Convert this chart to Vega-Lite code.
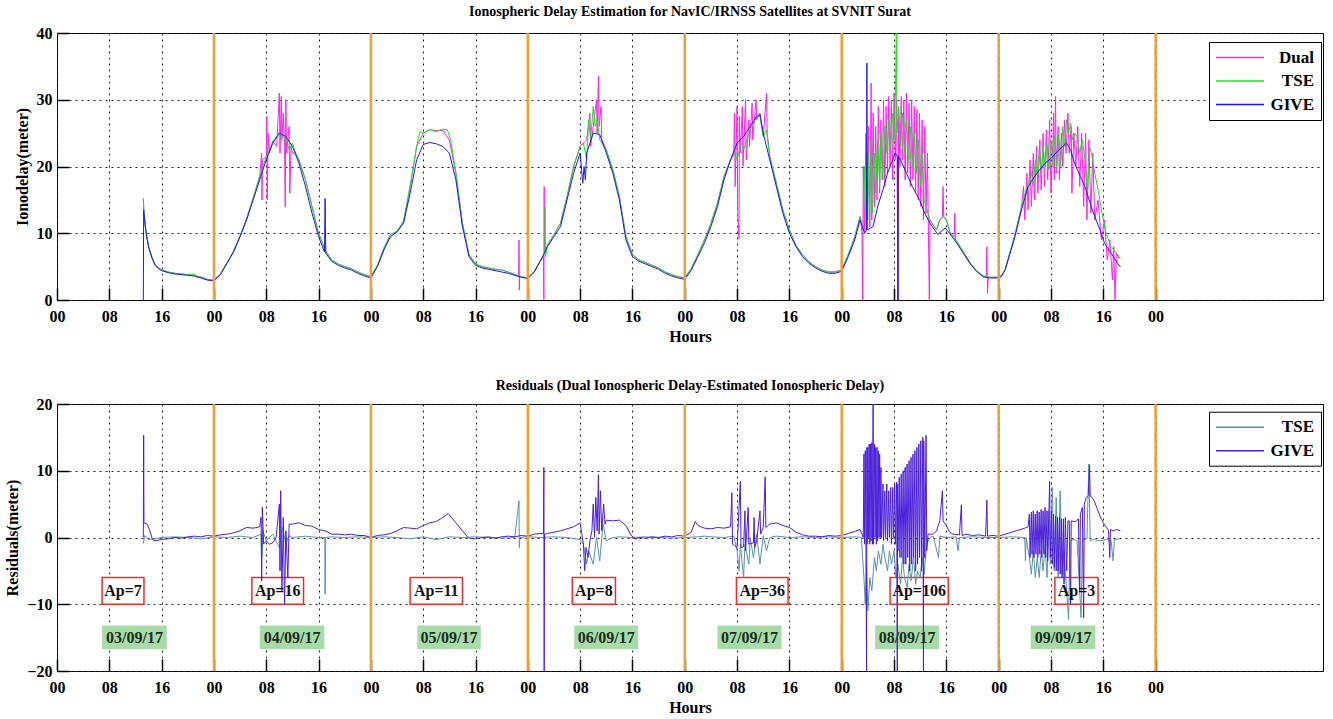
{
  "$schema": "https://vega.github.io/schema/vega-lite/v6.json",
  "padding": {"left": 4, "top": 4, "right": 5, "bottom": 4},
  "background": "white",
  "bounds": "flush",
  "spacing": 104,
  "resolve": {"scale": {"color": "independent"}, "legend": {"color": "independent"}},
  "config": {
    "view": {"stroke": "black", "strokeWidth": 1},
    "font": "Liberation Serif",
    "axis": {
      "labelFont": "Liberation Serif", "labelFontWeight": "bold", "labelFontSize": 16, "labelColor": "black",
      "titleFont": "Liberation Serif", "titleFontWeight": "bold", "titleFontSize": 16, "titleColor": "black",
      "domain": false, "tickColor": "black", "tickSize": -12, "tickWidth": 1.5,
      "gridColor": "#222222", "gridDash": [2, 4], "gridWidth": 1, "gridOpacity": 1
    },
    "axisX": {"labelPadding": 20, "titlePadding": 4, "labelFlush": false},
    "axisY": {"labelPadding": 17, "titlePadding": 6},
    "title": {"font": "Liberation Serif", "fontWeight": "bold", "fontSize": 14, "color": "black", "offset": 6},
    "legend": {
      "title": null, "orient": "none", "symbolType": "M-2.833,0L13.167,0", "symbolSize": 36, "symbolStrokeWidth": 1.5,
      "labelFont": "Liberation Serif", "labelFontWeight": "bold", "labelFontSize": 17, "labelColor": "black",
      "labelAlign": "right", "labelOffset": 81, "strokeColor": "black", "fillColor": "white", "padding": 7, "cornerRadius": 0
    }
  },
  "datasets": {
    "days": [{"h": 24}, {"h": 48}, {"h": 72}, {"h": 96}, {"h": 120}, {"h": 144}, {"h": 168}],
    "ap": [
      {"t": "Ap=7", "x0": 6.9, "x1": 13.3, "xm": 10.1, "y0": -6, "y1": -10, "ym": -8},
      {"t": "Ap=16", "x0": 29.8, "x1": 37.7, "xm": 33.75, "y0": -6, "y1": -10, "ym": -8},
      {"t": "Ap=11", "x0": 54.0, "x1": 62.0, "xm": 58.0, "y0": -6, "y1": -10, "ym": -8},
      {"t": "Ap=8", "x0": 78.8, "x1": 85.4, "xm": 82.1, "y0": -6, "y1": -10, "ym": -8},
      {"t": "Ap=36", "x0": 103.9, "x1": 111.8, "xm": 107.85, "y0": -6, "y1": -10, "ym": -8},
      {"t": "Ap=106", "x0": 127.4, "x1": 136.3, "xm": 131.85, "y0": -6, "y1": -10, "ym": -8},
      {"t": "Ap=3", "x0": 152.6, "x1": 159.2, "xm": 155.9, "y0": -6, "y1": -10, "ym": -8}
    ],
    "dates": [
      {"t": "03/09/17", "x0": 6.9, "x1": 16.8, "xm": 11.85, "y0": -13.2, "y1": -16.7, "ym": -15},
      {"t": "04/09/17", "x0": 31.0, "x1": 40.9, "xm": 35.95, "y0": -13.2, "y1": -16.7, "ym": -15},
      {"t": "05/09/17", "x0": 55.1, "x1": 64.8, "xm": 59.95, "y0": -13.2, "y1": -16.7, "ym": -15},
      {"t": "06/09/17", "x0": 79.1, "x1": 88.9, "xm": 84.0, "y0": -13.2, "y1": -16.7, "ym": -15},
      {"t": "07/09/17", "x0": 101.0, "x1": 110.8, "xm": 105.9, "y0": -13.2, "y1": -16.7, "ym": -15},
      {"t": "08/09/17", "x0": 125.1, "x1": 134.9, "xm": 130.0, "y0": -13.2, "y1": -16.7, "ym": -15},
      {"t": "09/09/17", "x0": 148.9, "x1": 158.8, "xm": 153.85, "y0": -13.2, "y1": -16.7, "ym": -15}
    ],
    "top_dual": [
      {"h":13.2,"v":15},{"h":13.3,"v":13},{"h":13.5,"v":11},{"h":14,"v":8},{"h":14.5,"v":6.5},{"h":15,"v":5.3},{"h":16,"v":4.5},{"h":17,"v":4.2},{"h":18,"v":4.0},{"h":19,"v":3.9},{"h":20,"v":3.8},{"h":21,"v":3.7},{"h":22,"v":3.4},{"h":23,"v":3.0},{"h":24,"v":2.9},{"h":25,"v":3.9},{"h":26,"v":5.6},{"h":27,"v":7.3},{"h":28,"v":9.6},{"h":29,"v":12.2},{"h":30,"v":15.3},{"h":31,"v":18.5},{"h":31.3,"v":22},{"h":31.35,"v":15},{"h":31.4,"v":21},{"h":32,"v":21.5},{"h":32.1,"v":27.5},{"h":32.15,"v":15},{"h":32.3,"v":25},{"h":32.5,"v":22},{"h":33,"v":23.8},{"h":33.6,"v":23},{"h":34.0,"v":31},{"h":34.1,"v":22},{"h":34.3,"v":30.5},{"h":34.4,"v":24},{"h":34.6,"v":28},{"h":34.8,"v":23},{"h":34.9,"v":14},{"h":35,"v":30},{"h":35.1,"v":22},{"h":35.5,"v":26},{"h":35.6,"v":16},{"h":35.8,"v":23},{"h":36,"v":22},{"h":36.5,"v":22},{"h":37,"v":21},{"h":38,"v":18},{"h":39,"v":14},{"h":40,"v":10},{"h":41,"v":7.5},{"h":42,"v":6},{"h":43,"v":5.4},{"h":44,"v":5},{"h":45,"v":4.7},{"h":46,"v":4.2},{"h":47,"v":3.8},{"h":48,"v":3.5},{"h":49,"v":5.2},{"h":50,"v":7.8},{"h":51,"v":9.8},{"h":52,"v":10.3},{"h":53,"v":11.8},{"h":54,"v":17},{"h":55,"v":23},{"h":56,"v":25},{"h":57,"v":25.5},{"h":58,"v":25.4},{"h":59,"v":25.4},{"h":60,"v":24},{"h":61,"v":19},{"h":62,"v":11.5},{"h":63,"v":6.8},{"h":64,"v":5.4},{"h":65,"v":5},{"h":66,"v":4.8},{"h":67,"v":4.6},{"h":68,"v":4.5},{"h":69,"v":4.2},{"h":70,"v":3.8},{"h":70.6,"v":3.6},{"h":70.65,"v":9},{"h":70.7,"v":1.5},{"h":70.75,"v":3.6},{"h":71,"v":3.5},{"h":72,"v":3.3},{"h":73,"v":4.3},{"h":74,"v":6},{"h":74.4,"v":6.5},{"h":74.45,"v":0},{"h":74.5,"v":17},{"h":74.55,"v":7},{"h":75,"v":8.2},{"h":76,"v":9.8},{"h":77,"v":11.5},{"h":78,"v":15.5},{"h":79,"v":20},{"h":80,"v":23},{"h":81,"v":24},{"h":81.5,"v":28},{"h":81.6,"v":23},{"h":82,"v":26},{"h":82.5,"v":30},{"h":82.6,"v":25},{"h":82.8,"v":33.5},{"h":82.9,"v":26},{"h":83.2,"v":29},{"h":83.3,"v":24},{"h":84,"v":22.5},{"h":85,"v":19.5},{"h":86,"v":15.5},{"h":87,"v":9.5},{"h":88,"v":6.8},{"h":89,"v":6},{"h":90,"v":5.6},{"h":91,"v":5.2},{"h":92,"v":4.8},{"h":93,"v":4.2},{"h":94,"v":3.8},{"h":95,"v":3.5},{"h":96,"v":3.3},{"h":97,"v":4.7},{"h":98,"v":6.8},{"h":99,"v":9},{"h":100,"v":11.5},{"h":101,"v":14.5},{"h":102,"v":18.5},{"h":103,"v":21},{"h":103.5,"v":22},{"h":103.6,"v":28},{"h":103.7,"v":17},{"h":104.0,"v":29},{"h":104.1,"v":13},{"h":104.3,"v":9.2},{"h":104.35,"v":27.5},{"h":104.5,"v":22},{"h":104.8,"v":29},{"h":104.9,"v":20},{"h":105.3,"v":30},{"h":105.4,"v":21},{"h":105.8,"v":27},{"h":105.9,"v":23},{"h":106.3,"v":29.5},{"h":106.4,"v":24},{"h":106.9,"v":30},{"h":107,"v":27},{"h":107.5,"v":28},{"h":108,"v":24.5},{"h":108.5,"v":31},{"h":108.6,"v":25},{"h":109,"v":21.5},{"h":110,"v":17.5},{"h":111,"v":13.5},{"h":112,"v":10.5},{"h":113,"v":8.2},{"h":114,"v":6.8},{"h":115,"v":5.7},{"h":116,"v":5},{"h":117,"v":4.5},{"h":118,"v":4.2},{"h":119,"v":4.2},{"h":120,"v":4.5},{"h":121,"v":6.8},{"h":122,"v":9.5},{"h":122.8,"v":12.5},{"h":123.1,"v":10},{"h":123.2,"v":0},{"h":123.3,"v":20},{"h":123.5,"v":10},{"h":123.7,"v":25},{"h":123.9,"v":12},{"h":124.1,"v":26},{"h":124.3,"v":11},{"h":124.5,"v":32.5},{"h":124.6,"v":12},{"h":124.8,"v":28},{"h":125,"v":14},{"h":125.2,"v":26},{"h":125.4,"v":15},{"h":125.6,"v":29},{"h":125.8,"v":16},{"h":126,"v":27},{"h":126.2,"v":18},{"h":126.4,"v":30},{"h":126.6,"v":17},{"h":126.8,"v":29},{"h":127,"v":19},{"h":127.2,"v":30.5},{"h":127.4,"v":20},{"h":127.6,"v":30},{"h":127.8,"v":18},{"h":128,"v":31},{"h":128.2,"v":21},{"h":128.4,"v":30},{"h":128.6,"v":0},{"h":128.7,"v":29},{"h":128.9,"v":20},{"h":129.1,"v":30.5},{"h":129.3,"v":21},{"h":129.5,"v":30},{"h":129.7,"v":18},{"h":129.9,"v":31},{"h":130.1,"v":19},{"h":130.3,"v":29.5},{"h":130.5,"v":17},{"h":130.7,"v":30},{"h":130.9,"v":18},{"h":131.1,"v":29},{"h":131.3,"v":16},{"h":131.5,"v":28.5},{"h":131.7,"v":15},{"h":131.9,"v":28},{"h":132.1,"v":14},{"h":132.3,"v":27},{"h":132.5,"v":12},{"h":132.7,"v":26},{"h":132.9,"v":13},{"h":133.1,"v":22},{"h":133.4,"v":0},{"h":133.5,"v":12},{"h":134.5,"v":10.5},{"h":135,"v":12},{"h":135.4,"v":12.5},{"h":135.5,"v":17},{"h":135.6,"v":12.5},{"h":136,"v":12},{"h":136.6,"v":10},{"h":137.2,"v":9.5},{"h":137.3,"v":13},{"h":137.4,"v":9},{"h":137.6,"v":8.8},{"h":138.6,"v":7.2},{"h":139.6,"v":5.6},{"h":140.6,"v":4.4},{"h":141.6,"v":3.6},{"h":142.1,"v":3.4},{"h":142.2,"v":8},{"h":142.3,"v":1},{"h":142.4,"v":3.4},{"h":143.7,"v":3.4},{"h":144.4,"v":3.6},{"h":145,"v":4.6},{"h":146.5,"v":9.8},{"h":147.5,"v":14},{"h":147.8,"v":17},{"h":148,"v":12},{"h":148.3,"v":19},{"h":148.5,"v":13.5},{"h":148.8,"v":21},{"h":149,"v":14},{"h":149.3,"v":22},{"h":149.5,"v":15},{"h":149.8,"v":23},{"h":150,"v":16},{"h":150.3,"v":24},{"h":150.5,"v":16.5},{"h":150.8,"v":25},{"h":151,"v":17},{"h":151.3,"v":25.5},{"h":151.5,"v":18},{"h":151.8,"v":27},{"h":152,"v":16},{"h":152.3,"v":24},{"h":152.4,"v":28},{"h":152.5,"v":18},{"h":152.7,"v":30.5},{"h":152.8,"v":19},{"h":153.1,"v":26},{"h":153.3,"v":18},{"h":153.6,"v":25},{"h":153.8,"v":20},{"h":154.1,"v":27},{"h":154.3,"v":22},{"h":154.6,"v":28},{"h":154.8,"v":22},{"h":155.1,"v":26},{"h":155.2,"v":16},{"h":155.5,"v":25},{"h":155.8,"v":20},{"h":156.1,"v":26},{"h":156.4,"v":17},{"h":156.7,"v":25},{"h":157,"v":14},{"h":157.3,"v":25},{"h":157.5,"v":12},{"h":157.8,"v":24},{"h":158.1,"v":13},{"h":158.4,"v":22},{"h":158.7,"v":12},{"h":159.2,"v":15},{"h":159.7,"v":9},{"h":160.2,"v":12},{"h":160.6,"v":6},{"h":161,"v":9},{"h":161.4,"v":3},{"h":161.6,"v":8},{"h":161.8,"v":0},{"h":162,"v":7},{"h":162.4,"v":6.2}
    ],
    "top_tse": [
      {"h":13.2,"v":15.3},{"h":13.3,"v":13},{"h":13.5,"v":11},{"h":14,"v":8},{"h":14.5,"v":6.5},{"h":15,"v":5.3},{"h":15.5,"v":4.8},{"h":16,"v":4.5},{"h":17,"v":4.2},{"h":18,"v":4.0},{"h":19,"v":3.9},{"h":20,"v":3.8},{"h":21,"v":3.9},{"h":21.5,"v":3.4},{"h":22,"v":3.5},{"h":23,"v":3.1},{"h":24,"v":3.0},{"h":25,"v":3.9},{"h":26,"v":5.6},{"h":27,"v":7.3},{"h":28,"v":9.6},{"h":29,"v":12.2},{"h":30,"v":15.3},{"h":31,"v":18.5},{"h":32,"v":21.5},{"h":33,"v":23.8},{"h":34,"v":25},{"h":35,"v":24},{"h":35.5,"v":22.5},{"h":36,"v":23.5},{"h":36.5,"v":22},{"h":37,"v":21},{"h":38,"v":18},{"h":39,"v":14},{"h":40,"v":10},{"h":41,"v":7.5},{"h":42,"v":6},{"h":43,"v":5.4},{"h":44,"v":5},{"h":45,"v":4.7},{"h":46,"v":4.2},{"h":47,"v":3.8},{"h":48,"v":3.5},{"h":49,"v":5.2},{"h":50,"v":7.8},{"h":51,"v":9.8},{"h":52,"v":10.3},{"h":53,"v":11.8},{"h":54,"v":17},{"h":55,"v":23},{"h":55.5,"v":25.2},{"h":56,"v":25},{"h":57,"v":25.5},{"h":58,"v":25.2},{"h":59,"v":25.6},{"h":59.7,"v":25.5},{"h":60.2,"v":24},{"h":61,"v":19},{"h":62,"v":11.5},{"h":63,"v":6.8},{"h":64,"v":5.4},{"h":65,"v":5},{"h":66,"v":4.8},{"h":67,"v":4.6},{"h":68,"v":4.5},{"h":69,"v":4.2},{"h":70,"v":3.8},{"h":71,"v":3.5},{"h":72,"v":3.3},{"h":73,"v":4.3},{"h":74,"v":6},{"h":74.6,"v":7},{"h":74.65,"v":14},{"h":74.7,"v":6.5},{"h":75,"v":8.2},{"h":76,"v":9.8},{"h":77,"v":11.5},{"h":78,"v":15.5},{"h":79,"v":20},{"h":80,"v":23},{"h":80.5,"v":23.5},{"h":81,"v":21},{"h":81.3,"v":27},{"h":81.6,"v":24},{"h":82,"v":29},{"h":82.3,"v":26},{"h":82.6,"v":27},{"h":83,"v":24},{"h":84,"v":22.5},{"h":85,"v":19.5},{"h":86,"v":15.5},{"h":87,"v":9.5},{"h":88,"v":6.8},{"h":89,"v":6},{"h":90,"v":5.6},{"h":91,"v":5.2},{"h":92,"v":4.8},{"h":93,"v":4.2},{"h":94,"v":3.8},{"h":95,"v":3.5},{"h":96,"v":3.3},{"h":97,"v":4.7},{"h":98,"v":6.8},{"h":99,"v":9},{"h":99.5,"v":10},{"h":100,"v":11.5},{"h":101,"v":14.5},{"h":102,"v":18.5},{"h":103,"v":21},{"h":103.7,"v":22},{"h":104,"v":21},{"h":104.5,"v":23},{"h":105,"v":22.5},{"h":105.5,"v":24},{"h":106,"v":25.5},{"h":107,"v":27.5},{"h":107.5,"v":27.5},{"h":108,"v":24.5},{"h":108.5,"v":25.5},{"h":109,"v":21.5},{"h":110,"v":17.5},{"h":111,"v":13.5},{"h":112,"v":10.5},{"h":113,"v":8.2},{"h":114,"v":6.8},{"h":115,"v":5.7},{"h":116,"v":5},{"h":117,"v":4.5},{"h":118,"v":4.2},{"h":119,"v":4.2},{"h":120,"v":4.5},{"h":121,"v":6.8},{"h":122,"v":9.5},{"h":122.8,"v":12.5},{"h":123.3,"v":10.5},{"h":123.5,"v":20},{"h":123.7,"v":11},{"h":124,"v":22},{"h":124.2,"v":12},{"h":124.5,"v":24},{"h":124.7,"v":13},{"h":125,"v":22},{"h":125.2,"v":16},{"h":125.5,"v":24},{"h":125.8,"v":17},{"h":126,"v":25},{"h":126.3,"v":18},{"h":126.6,"v":26},{"h":126.9,"v":22},{"h":127.2,"v":27},{"h":127.5,"v":23},{"h":127.8,"v":28},{"h":128.1,"v":24},{"h":128.35,"v":40},{"h":128.45,"v":25},{"h":128.7,"v":29},{"h":129,"v":23},{"h":129.3,"v":28},{"h":129.6,"v":22},{"h":129.9,"v":27},{"h":130.2,"v":21},{"h":130.5,"v":26},{"h":130.8,"v":20},{"h":131.1,"v":25},{"h":131.4,"v":19},{"h":131.7,"v":24},{"h":132,"v":17},{"h":132.3,"v":22},{"h":132.6,"v":15},{"h":132.9,"v":14},{"h":133.5,"v":12},{"h":134.5,"v":10.5},{"h":135,"v":12},{"h":135.5,"v":12.5},{"h":136,"v":12},{"h":136.6,"v":10},{"h":137.6,"v":8.8},{"h":138.6,"v":7.2},{"h":139.6,"v":5.6},{"h":140.6,"v":4.4},{"h":141.6,"v":3.6},{"h":142.6,"v":3.4},{"h":143.7,"v":3.4},{"h":144.4,"v":3.6},{"h":145,"v":4.6},{"h":146.5,"v":9.8},{"h":147.5,"v":14},{"h":148.5,"v":17.5},{"h":149,"v":19},{"h":149.3,"v":17},{"h":149.6,"v":21},{"h":149.9,"v":18.5},{"h":150.2,"v":22.5},{"h":150.5,"v":19},{"h":150.8,"v":23},{"h":151.1,"v":20},{"h":151.4,"v":23.5},{"h":151.7,"v":19.5},{"h":152,"v":24},{"h":152.3,"v":20},{"h":152.6,"v":24.5},{"h":152.9,"v":19.5},{"h":153.2,"v":25},{"h":153.5,"v":20},{"h":153.8,"v":26},{"h":154.1,"v":23},{"h":154.4,"v":27},{"h":154.7,"v":25},{"h":155,"v":26.5},{"h":155.3,"v":24},{"h":155.6,"v":25},{"h":156,"v":24.5},{"h":156.4,"v":22},{"h":156.8,"v":24},{"h":157.2,"v":21},{"h":157.6,"v":16},{"h":157.9,"v":23},{"h":158.2,"v":22},{"h":158.7,"v":19},{"h":159.3,"v":16},{"h":159.8,"v":13},{"h":160.3,"v":10.5},{"h":160.8,"v":9},{"h":161.2,"v":8},{"h":161.6,"v":7.5},{"h":162.2,"v":6.8},{"h":162.6,"v":6.2}
    ],
    "top_give": [
      {"h":13.2,"v":0},{"h":13.25,"v":13.5},{"h":13.4,"v":12},{"h":13.7,"v":9.5},{"h":14,"v":8},{"h":14.5,"v":6.3},{"h":15,"v":5.2},{"h":15.5,"v":4.7},{"h":16,"v":4.4},{"h":17,"v":4.1},{"h":18,"v":3.9},{"h":19,"v":3.8},{"h":20,"v":3.7},{"h":21,"v":3.6},{"h":22,"v":3.3},{"h":23,"v":3.0},{"h":24,"v":2.9},{"h":25,"v":3.8},{"h":26,"v":5.5},{"h":27,"v":7.2},{"h":28,"v":9.5},{"h":29,"v":12},{"h":30,"v":15},{"h":31,"v":18},{"h":32,"v":21},{"h":33,"v":23.5},{"h":34,"v":25},{"h":35,"v":24.5},{"h":36,"v":23},{"h":37,"v":20.5},{"h":38,"v":17},{"h":39,"v":13},{"h":40,"v":9.5},{"h":40.9,"v":7.2},{"h":41,"v":15.2},{"h":41.1,"v":7},{"h":42,"v":5.8},{"h":43,"v":5.2},{"h":44,"v":4.8},{"h":45,"v":4.5},{"h":46,"v":4.0},{"h":47,"v":3.6},{"h":48,"v":3.3},{"h":49,"v":5},{"h":50,"v":7.5},{"h":51,"v":9.5},{"h":52,"v":10.2},{"h":53,"v":11.5},{"h":54,"v":16},{"h":55,"v":21},{"h":56,"v":23.3},{"h":57,"v":23.6},{"h":58,"v":23.4},{"h":59,"v":23},{"h":60,"v":22},{"h":61,"v":18},{"h":62,"v":11},{"h":63,"v":6.5},{"h":64,"v":5.2},{"h":65,"v":4.8},{"h":66,"v":4.6},{"h":67,"v":4.4},{"h":68,"v":4.2},{"h":69,"v":4.0},{"h":70,"v":3.7},{"h":71,"v":3.4},{"h":72,"v":3.2},{"h":73,"v":4.2},{"h":74,"v":6},{"h":75,"v":8},{"h":76,"v":9.5},{"h":77,"v":11},{"h":78,"v":15},{"h":79,"v":19},{"h":80,"v":22},{"h":80.4,"v":17.5},{"h":80.6,"v":20},{"h":80.8,"v":18},{"h":81,"v":22},{"h":82,"v":25},{"h":83,"v":24.8},{"h":84,"v":22},{"h":85,"v":19},{"h":86,"v":15},{"h":87,"v":9},{"h":88,"v":6.5},{"h":89,"v":5.8},{"h":90,"v":5.4},{"h":91,"v":5},{"h":92,"v":4.6},{"h":93,"v":4.0},{"h":94,"v":3.6},{"h":95,"v":3.3},{"h":96,"v":3.1},{"h":97,"v":4.5},{"h":98,"v":6.5},{"h":99,"v":8.5},{"h":100,"v":11},{"h":101,"v":14},{"h":102,"v":18},{"h":103,"v":21},{"h":104,"v":23.5},{"h":105,"v":24.5},{"h":106,"v":26},{"h":107,"v":27.5},{"h":107.5,"v":27.8},{"h":108,"v":25},{"h":109,"v":21},{"h":110,"v":17},{"h":111,"v":13},{"h":112,"v":10},{"h":113,"v":8},{"h":114,"v":6.5},{"h":115,"v":5.5},{"h":116,"v":4.8},{"h":117,"v":4.3},{"h":118,"v":4.0},{"h":119,"v":4.0},{"h":120,"v":4.3},{"h":121,"v":6.5},{"h":122,"v":9},{"h":122.8,"v":12},{"h":123.5,"v":10},{"h":123.8,"v":10.5},{"h":123.85,"v":35.5},{"h":123.9,"v":10.5},{"h":124.8,"v":11},{"h":125.5,"v":14},{"h":126.3,"v":16.5},{"h":127,"v":19},{"h":128.2,"v":22},{"h":128.55,"v":21.5},{"h":128.6,"v":0},{"h":128.65,"v":21.5},{"h":129,"v":21},{"h":129.9,"v":19},{"h":130.8,"v":17},{"h":131.9,"v":15},{"h":132.7,"v":13},{"h":133.5,"v":11.5},{"h":134.7,"v":9.8},{"h":135.8,"v":10.8},{"h":136.5,"v":10},{"h":137.6,"v":8.5},{"h":138.6,"v":7},{"h":139.6,"v":5.5},{"h":140.6,"v":4.3},{"h":141.6,"v":3.5},{"h":142.6,"v":3.3},{"h":143.7,"v":3.3},{"h":144.4,"v":3.5},{"h":145,"v":4.5},{"h":146.5,"v":9.5},{"h":147.5,"v":13.5},{"h":148.5,"v":17},{"h":149.5,"v":18.5},{"h":150.5,"v":19.8},{"h":151.1,"v":20.5},{"h":152,"v":21.2},{"h":153,"v":22.3},{"h":154.4,"v":23.5},{"h":155,"v":22.5},{"h":155.6,"v":20.5},{"h":156.5,"v":18.5},{"h":157.2,"v":17},{"h":158,"v":14.5},{"h":158.7,"v":12.5},{"h":159.5,"v":10.5},{"h":160.2,"v":8.5},{"h":161.2,"v":7},{"h":162.2,"v":5.5},{"h":162.6,"v":5}
    ],
    "res_tse": [
      {"h":13.2,"v":-0.9},{"h":13.4,"v":0.3},{"h":14,"v":-0.3},{"h":15,"v":-0.2},{"h":16,"v":0},{"h":18,"v":0.1},{"h":20,"v":0},{"h":22,"v":-0.2},{"h":24,"v":0.1},{"h":26,"v":0},{"h":28,"v":0.2},{"h":30,"v":0},{"h":31.2,"v":0.5},{"h":31.3,"v":-3},{"h":31.5,"v":1},{"h":32,"v":-0.5},{"h":33,"v":0.5},{"h":34,"v":-1.5},{"h":34.5,"v":1.5},{"h":35,"v":-1},{"h":35.5,"v":0.3},{"h":36,"v":0},{"h":38,"v":0.2},{"h":40,"v":0},{"h":40.95,"v":0},{"h":41,"v":-8.5},{"h":41.1,"v":0},{"h":42,"v":0.1},{"h":44,"v":0},{"h":46,"v":0.1},{"h":48,"v":0},{"h":50,"v":0.1},{"h":52,"v":0},{"h":54,"v":-0.2},{"h":56,"v":0.1},{"h":58,"v":-0.3},{"h":60,"v":0.1},{"h":62,"v":0},{"h":64,"v":0.1},{"h":66,"v":0},{"h":68,"v":-0.1},{"h":70,"v":0},{"h":70.65,"v":5.5},{"h":70.7,"v":-1.5},{"h":70.8,"v":0},{"h":72,"v":0.1},{"h":74,"v":0},{"h":76,"v":0.1},{"h":78,"v":0},{"h":80,"v":-0.3},{"h":80.5,"v":-1},{"h":81,"v":-4},{"h":81.3,"v":-2},{"h":82,"v":-4},{"h":82.5,"v":0},{"h":83,"v":-3.5},{"h":83.5,"v":2},{"h":84,"v":-0.5},{"h":85,"v":0},{"h":86,"v":0.1},{"h":88,"v":0},{"h":90,"v":0.1},{"h":92,"v":0},{"h":94,"v":-0.1},{"h":96,"v":0},{"h":98,"v":0.1},{"h":99,"v":0.2},{"h":100,"v":0.1},{"h":102,"v":0},{"h":103.5,"v":0.2},{"h":104,"v":-2},{"h":104.3,"v":-5},{"h":104.5,"v":-1},{"h":105,"v":-6},{"h":105.2,"v":-1},{"h":105.8,"v":-4},{"h":106,"v":0},{"h":106.5,"v":-3},{"h":107,"v":0.5},{"h":107.5,"v":-4},{"h":108,"v":0.3},{"h":108.5,"v":-2},{"h":109,"v":0},{"h":110,"v":0.2},{"h":112,"v":0},{"h":114,"v":0.1},{"h":116,"v":0},{"h":118,"v":0.1},{"h":120,"v":0},{"h":122,"v":0.1},{"h":123,"v":0},{"h":123.4,"v":-6},{"h":123.6,"v":-10},{"h":123.8,"v":-4},{"h":124,"v":-11},{"h":124.3,"v":-6},{"h":124.6,"v":-8},{"h":125,"v":-3},{"h":125.3,"v":-5},{"h":125.6,"v":-2},{"h":126,"v":-4},{"h":126.3,"v":-1},{"h":126.6,"v":-3},{"h":127,"v":-5},{"h":127.3,"v":-2},{"h":127.6,"v":-4},{"h":128,"v":-2},{"h":128.3,"v":-6},{"h":128.6,"v":-4},{"h":129,"v":-7},{"h":129.3,"v":-3},{"h":129.6,"v":-6},{"h":130,"v":-7.5},{"h":130.3,"v":-4},{"h":130.6,"v":-6.5},{"h":131,"v":-3},{"h":131.3,"v":-7},{"h":131.6,"v":-5},{"h":132,"v":-6},{"h":132.3,"v":-3},{"h":132.6,"v":-5.5},{"h":133,"v":-1},{"h":133.5,"v":0},{"h":134,"v":0.2},{"h":134.8,"v":-3},{"h":135,"v":0.2},{"h":136,"v":0},{"h":137.5,"v":0.1},{"h":137.8,"v":-2},{"h":138,"v":0},{"h":140,"v":0.1},{"h":142,"v":0},{"h":144,"v":0},{"h":146,"v":0.1},{"h":148,"v":0},{"h":148.1,"v":-3.5},{"h":148.2,"v":0},{"h":148.7,"v":-3},{"h":149,"v":-5.5},{"h":149.3,"v":-2},{"h":149.6,"v":-6},{"h":149.9,"v":-3},{"h":150.2,"v":-6},{"h":150.5,"v":-2},{"h":150.8,"v":-5},{"h":151.1,"v":-1},{"h":151.4,"v":-6},{"h":151.7,"v":4},{"h":151.9,"v":-4},{"h":152.2,"v":7.5},{"h":152.5,"v":-5},{"h":152.8,"v":6},{"h":153.1,"v":-6},{"h":153.4,"v":7},{"h":153.7,"v":-5.5},{"h":154,"v":-2},{"h":154.3,"v":-6.5},{"h":154.7,"v":-12.3},{"h":154.9,"v":-0.5},{"h":155.5,"v":-0.3},{"h":156,"v":-0.5},{"h":156.6,"v":-12},{"h":156.8,"v":-0.3},{"h":157.5,"v":-0.2},{"h":157.8,"v":11},{"h":158,"v":-0.5},{"h":158.5,"v":-0.3},{"h":159.5,"v":-0.5},{"h":160.5,"v":-0.3},{"h":161.2,"v":-0.5},{"h":161.5,"v":-3.5},{"h":161.7,"v":-0.3},{"h":162.5,"v":-0.2}
    ],
    "res_give": [
      {"h":13.2,"v":0},{"h":13.25,"v":15.3},{"h":13.3,"v":2.2},{"h":13.8,"v":2},{"h":14.2,"v":1},{"h":14.6,"v":-0.3},{"h":15,"v":-0.5},{"h":16,"v":-0.3},{"h":17,"v":-0.2},{"h":18,"v":0},{"h":19,"v":-0.1},{"h":20,"v":0.1},{"h":21,"v":0.2},{"h":22,"v":0.1},{"h":23,"v":0.3},{"h":24,"v":0.2},{"h":25,"v":0.4},{"h":26,"v":0.5},{"h":27,"v":0.7},{"h":28,"v":1.0},{"h":29,"v":1.5},{"h":30,"v":1.4},{"h":31,"v":1.6},{"h":31.2,"v":3},{"h":31.3,"v":-6.5},{"h":31.4,"v":4.5},{"h":31.6,"v":-1},{"h":32,"v":-0.5},{"h":32.5,"v":-1},{"h":33,"v":-0.8},{"h":33.5,"v":0},{"h":34,"v":5},{"h":34.1,"v":-5},{"h":34.2,"v":7},{"h":34.4,"v":-8},{"h":34.6,"v":3},{"h":34.8,"v":-10},{"h":35,"v":1},{"h":35.3,"v":-6},{"h":35.5,"v":2},{"h":36,"v":2},{"h":37,"v":2.2},{"h":38,"v":1.8},{"h":39,"v":1.7},{"h":40,"v":1.2},{"h":41,"v":1},{"h":42,"v":0.5},{"h":43,"v":0.5},{"h":44,"v":0.4},{"h":45,"v":0.5},{"h":46,"v":0.3},{"h":47,"v":0.3},{"h":48,"v":0},{"h":49,"v":0.3},{"h":50,"v":0.4},{"h":51,"v":0.6},{"h":52,"v":1.0},{"h":53,"v":1.5},{"h":54,"v":1.4},{"h":55,"v":1.3},{"h":56,"v":1.8},{"h":57,"v":2.2},{"h":58,"v":2.4},{"h":59,"v":3.0},{"h":59.8,"v":3.6},{"h":60.5,"v":2.8},{"h":61,"v":2.2},{"h":62,"v":1.0},{"h":62.7,"v":0.2},{"h":63,"v":-0.1},{"h":64,"v":-0.2},{"h":65,"v":0},{"h":66,"v":0.1},{"h":67,"v":-0.1},{"h":68,"v":0.1},{"h":69,"v":0.2},{"h":70,"v":0.1},{"h":71,"v":0.3},{"h":72,"v":0.2},{"h":73,"v":0.5},{"h":74,"v":0.6},{"h":74.4,"v":0.6},{"h":74.45,"v":10.5},{"h":74.5,"v":-20},{"h":74.55,"v":0.5},{"h":75,"v":0.6},{"h":76,"v":0.8},{"h":77,"v":1},{"h":78,"v":1.3},{"h":79,"v":1.6},{"h":80,"v":2.2},{"h":80.5,"v":-1},{"h":80.7,"v":-5},{"h":80.9,"v":-1.5},{"h":81.2,"v":-3},{"h":81.5,"v":-0.5},{"h":81.8,"v":1},{"h":82,"v":5},{"h":82.2,"v":0},{"h":82.4,"v":6},{"h":82.6,"v":1},{"h":82.8,"v":9.4},{"h":82.9,"v":0.5},{"h":83.1,"v":7},{"h":83.3,"v":1},{"h":83.6,"v":5},{"h":83.8,"v":2},{"h":84,"v":2.6},{"h":85,"v":2.5},{"h":86,"v":2.6},{"h":87,"v":1.8},{"h":87.8,"v":0.3},{"h":88.5,"v":-0.2},{"h":89,"v":0},{"h":90,"v":-0.1},{"h":91,"v":0.1},{"h":92,"v":0},{"h":93,"v":0.2},{"h":94,"v":0.1},{"h":95,"v":0.3},{"h":96,"v":0.2},{"h":97,"v":0.8},{"h":97.6,"v":2.4},{"h":98,"v":1.8},{"h":99,"v":1.4},{"h":100,"v":1.3},{"h":101,"v":1.5},{"h":102,"v":1.4},{"h":103,"v":1.6},{"h":103.2,"v":6.7},{"h":103.3,"v":-1},{"h":103.6,"v":-1.2},{"h":104,"v":-1.5},{"h":104.5,"v":8.4},{"h":104.6,"v":-1.5},{"h":105,"v":-1.4},{"h":105.2,"v":4},{"h":105.3,"v":-2},{"h":105.7,"v":4.5},{"h":105.8,"v":-1},{"h":106.5,"v":-0.8},{"h":106.6,"v":3},{"h":106.7,"v":-1.5},{"h":107,"v":-0.5},{"h":107.5,"v":4},{"h":107.6,"v":0.5},{"h":108,"v":1.5},{"h":108.3,"v":9.1},{"h":108.4,"v":1.5},{"h":109,"v":2},{"h":110,"v":2.2},{"h":111,"v":1.8},{"h":112,"v":1.5},{"h":113,"v":0.8},{"h":114,"v":0.4},{"h":115,"v":0.2},{"h":116,"v":0.2},{"h":117,"v":0.1},{"h":118,"v":0.3},{"h":119,"v":0.2},{"h":120,"v":0.3},{"h":121,"v":0.6},{"h":122,"v":0.9},{"h":122.8,"v":1.2},{"h":123.3,"v":0},{"h":123.4,"v":12.5},{"h":123.5,"v":-1},{"h":123.6,"v":13},{"h":123.7,"v":-0.5},{"h":123.8,"v":-20},{"h":123.85,"v":13.5},{"h":123.9,"v":-1},{"h":124.0,"v":13.5},{"h":124.1,"v":0},{"h":124.2,"v":14},{"h":124.3,"v":-1},{"h":124.4,"v":14},{"h":124.5,"v":-0.5},{"h":124.6,"v":14.2},{"h":124.7,"v":-1},{"h":124.8,"v":20},{"h":124.85,"v":-1},{"h":125,"v":14},{"h":125.1,"v":0},{"h":125.2,"v":13.5},{"h":125.3,"v":-1},{"h":125.4,"v":13.5},{"h":125.5,"v":-0.5},{"h":125.6,"v":13},{"h":125.7,"v":0},{"h":125.8,"v":12.5},{"h":125.9,"v":0},{"h":126,"v":10.5},{"h":126.1,"v":0},{"h":126.3,"v":8},{"h":126.4,"v":-0.5},{"h":126.6,"v":7},{"h":126.7,"v":0},{"h":126.9,"v":8},{"h":127,"v":-0.5},{"h":127.2,"v":7},{"h":127.3,"v":0},{"h":127.5,"v":7.5},{"h":127.6,"v":-1},{"h":127.8,"v":7.5},{"h":127.9,"v":0},{"h":128.1,"v":8},{"h":128.2,"v":-1},{"h":128.4,"v":8.3},{"h":128.5,"v":-20},{"h":128.55,"v":8},{"h":128.6,"v":-2},{"h":128.8,"v":9},{"h":128.9,"v":-3},{"h":129.1,"v":9.5},{"h":129.2,"v":-3},{"h":129.4,"v":10},{"h":129.5,"v":-4},{"h":129.7,"v":10.5},{"h":129.8,"v":-4},{"h":130,"v":11},{"h":130.1,"v":-3},{"h":130.3,"v":11.5},{"h":130.4,"v":-5},{"h":130.6,"v":12},{"h":130.7,"v":-4},{"h":130.9,"v":12.5},{"h":131,"v":-3},{"h":131.2,"v":13},{"h":131.3,"v":-5},{"h":131.5,"v":13.5},{"h":131.6,"v":-4},{"h":131.8,"v":14},{"h":131.9,"v":-3},{"h":132.1,"v":14.5},{"h":132.2,"v":-5},{"h":132.4,"v":15},{"h":132.5,"v":-20},{"h":132.55,"v":14.5},{"h":132.7,"v":-3},{"h":132.9,"v":15.3},{"h":133,"v":-2},{"h":133.2,"v":0.5},{"h":134,"v":0.5},{"h":134.5,"v":1},{"h":135,"v":2.5},{"h":135.4,"v":7},{"h":135.5,"v":2.5},{"h":136,"v":1.8},{"h":136.5,"v":0.8},{"h":137,"v":0.5},{"h":138,"v":0.4},{"h":138.3,"v":4.9},{"h":138.4,"v":0.3},{"h":139,"v":0.5},{"h":140,"v":0.3},{"h":141,"v":0.4},{"h":142,"v":0.2},{"h":142.2,"v":5.6},{"h":142.3,"v":0.2},{"h":143,"v":0.3},{"h":144,"v":0.2},{"h":145,"v":0.5},{"h":146,"v":0.8},{"h":147,"v":1.1},{"h":148,"v":1.4},{"h":148.5,"v":1.6},{"h":148.7,"v":3.5},{"h":148.8,"v":-3},{"h":149,"v":3.8},{"h":149.1,"v":-2.5},{"h":149.3,"v":4},{"h":149.4,"v":-3},{"h":149.6,"v":3.5},{"h":149.7,"v":-2.5},{"h":149.9,"v":4},{"h":150,"v":-3},{"h":150.2,"v":3.8},{"h":150.3,"v":-2.5},{"h":150.5,"v":4.2},{"h":150.6,"v":-3},{"h":150.8,"v":4},{"h":150.9,"v":-2.5},{"h":151.1,"v":4.5},{"h":151.2,"v":-3},{"h":151.4,"v":4},{"h":151.5,"v":-3.5},{"h":151.8,"v":8.4},{"h":151.9,"v":-3},{"h":152.1,"v":4},{"h":152.2,"v":-4},{"h":152.4,"v":3.5},{"h":152.5,"v":-4.5},{"h":152.7,"v":3.2},{"h":152.8,"v":-5},{"h":153,"v":3},{"h":153.1,"v":-5},{"h":153.3,"v":3},{"h":153.4,"v":-5.5},{"h":153.6,"v":2.8},{"h":153.7,"v":-6},{"h":153.9,"v":2.8},{"h":154,"v":-7},{"h":154.2,"v":3},{"h":154.4,"v":-5},{"h":154.6,"v":2.5},{"h":154.8,"v":2.5},{"h":155,"v":-10},{"h":155.1,"v":2.5},{"h":155.5,"v":2.4},{"h":155.8,"v":2.4},{"h":156.2,"v":2.8},{"h":156.4,"v":-8},{"h":156.5,"v":3.5},{"h":156.8,"v":4.5},{"h":157,"v":-12},{"h":157.1,"v":5},{"h":157.4,"v":6},{"h":157.7,"v":6.3},{"h":157.9,"v":10.9},{"h":158,"v":6.2},{"h":158.3,"v":6},{"h":158.6,"v":5.5},{"h":159,"v":4.5},{"h":159.5,"v":3.2},{"h":160,"v":2.2},{"h":160.5,"v":1.5},{"h":160.8,"v":1},{"h":161,"v":-3},{"h":161.1,"v":1.2},{"h":161.5,"v":1},{"h":162,"v":1.2},{"h":162.6,"v":1}
    ]
  },
  "vconcat": [
    {
      "width": 1266,
      "height": 267,
      "title": {"text": "Ionospheric Delay Estimation for NavIC/IRNSS Satellites at SVNIT Surat"},
      "encoding": {
        "x": {"field": "h", "type": "quantitative", "title": "Hours",
              "scale": {"domain": [0, 193.6], "nice": false, "zero": false},
              "axis": {"values": [0,8,16,24,32,40,48,56,64,72,80,88,96,104,112,120,128,136,144,152,160,168], "labelExpr": "(datum.value % 24) < 10 ? '0' + (datum.value % 24) : '' + (datum.value % 24)"}},
        "y": {"field": "v", "type": "quantitative", "title": "Ionodelay(meter)",
              "scale": {"domain": [0, 40], "nice": false},
              "axis": {"values": [0, 10, 20, 30, 40]}}
      },
      "layer": [
        {"data": {"name": "top_dual"}, "mark": {"type": "line", "strokeWidth": 1, "clip": true},
         "encoding": {"color": {"datum": "Dual", "type": "nominal",
           "scale": {"domain": ["Dual", "TSE", "GIVE"], "range": ["#ff22ee", "#1fe01f", "#1a1aee"]},
           "legend": {"legendX": 1152, "legendY": 9, "rowPadding": 5.5}}}},
        {"data": {"name": "top_tse"}, "mark": {"type": "line", "strokeWidth": 1, "clip": true},
         "encoding": {"color": {"datum": "TSE", "type": "nominal"}}},
        {"data": {"name": "top_give"}, "mark": {"type": "line", "strokeWidth": 1, "clip": true},
         "encoding": {"color": {"datum": "GIVE", "type": "nominal"}}},
        {"data": {"name": "days"}, "mark": {"type": "rule", "color": "#f0a030", "strokeWidth": 2.5},
         "encoding": {"y": {"value": 0}, "y2": {"value": 267}}}
      ]
    },
    {
      "width": 1266,
      "height": 267,
      "title": {"text": "Residuals (Dual Ionospheric Delay-Estimated Ionospheric Delay)", "offset": 3},
      "encoding": {
        "x": {"field": "h", "type": "quantitative", "title": "Hours",
              "scale": {"domain": [0, 193.6], "nice": false, "zero": false},
              "axis": {"values": [0,8,16,24,32,40,48,56,64,72,80,88,96,104,112,120,128,136,144,152,160,168], "labelExpr": "(datum.value % 24) < 10 ? '0' + (datum.value % 24) : '' + (datum.value % 24)"}},
        "y": {"field": "v", "type": "quantitative", "title": "Residuals(meter)",
              "scale": {"domain": [-20, 20], "nice": false},
              "axis": {"values": [-20, -10, 0, 10, 20]}}
      },
      "layer": [
        {"data": {"name": "ap"}, "mark": {"type": "rect", "fill": "white", "stroke": "#e8302a", "strokeWidth": 1.5},
         "encoding": {"x": {"field": "x0", "type": "quantitative", "title": "Hours"}, "x2": {"field": "x1"},
                      "y": {"field": "y0", "type": "quantitative", "title": "Residuals(meter)"}, "y2": {"field": "y1"}}},
        {"data": {"name": "dates"}, "mark": {"type": "rect", "fill": "#a9dba9", "stroke": null},
         "encoding": {"x": {"field": "x0", "type": "quantitative", "title": "Hours"}, "x2": {"field": "x1"},
                      "y": {"field": "y0", "type": "quantitative", "title": "Residuals(meter)"}, "y2": {"field": "y1"}}},
        {"data": {"name": "res_tse"}, "mark": {"type": "line", "strokeWidth": 1, "clip": true},
         "encoding": {"color": {"datum": "TSE", "type": "nominal",
           "scale": {"domain": ["TSE", "GIVE"], "range": ["#5a93a5", "#4a1fd8"]},
           "legend": {"legendX": 1152, "legendY": 7.7, "rowPadding": 5.5}}}},
        {"data": {"name": "res_give"}, "mark": {"type": "line", "strokeWidth": 1, "clip": true},
         "encoding": {"color": {"datum": "GIVE", "type": "nominal"}}},
        {"data": {"name": "ap"}, "mark": {"type": "text", "font": "Liberation Serif", "fontWeight": "bold", "fontSize": 16, "color": "#111111", "baseline": "middle"},
         "encoding": {"x": {"field": "xm", "type": "quantitative", "title": "Hours"}, "y": {"field": "ym", "type": "quantitative", "title": "Residuals(meter)"}, "text": {"field": "t"}}},
        {"data": {"name": "dates"}, "mark": {"type": "text", "font": "Liberation Serif", "fontWeight": "bold", "fontSize": 16, "color": "#15301a", "baseline": "middle"},
         "encoding": {"x": {"field": "xm", "type": "quantitative", "title": "Hours"}, "y": {"field": "ym", "type": "quantitative", "title": "Residuals(meter)"}, "text": {"field": "t"}}},
        {"data": {"name": "days"}, "mark": {"type": "rule", "color": "#f0a030", "strokeWidth": 2.5},
         "encoding": {"y": {"value": 0}, "y2": {"value": 267}}}
      ]
    }
  ]
}
